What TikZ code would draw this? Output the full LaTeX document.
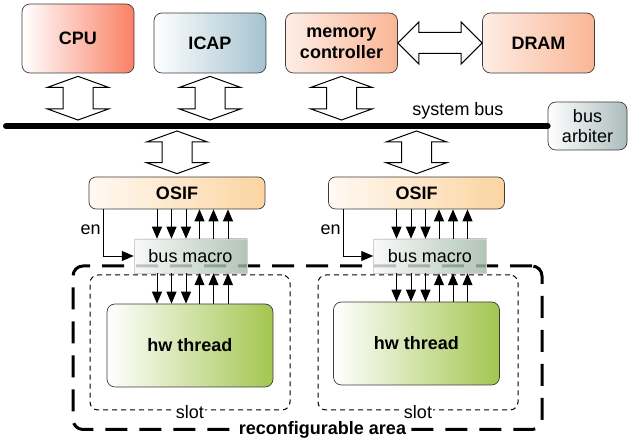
\documentclass[tikz,border=0pt]{standalone}
\usepackage{fontspec}
\setmainfont{Liberation Sans}
\usetikzlibrary{positioning,calc,arrows.meta}
\definecolor{cpuRed}{RGB}{250,128,100}
\definecolor{icapBlue}{RGB}{165,195,208}
\definecolor{memPeach}{RGB}{250,182,150}
\definecolor{arbGray}{RGB}{172,188,188}
\definecolor{osifOrange}{RGB}{252,212,160}
\definecolor{macroGreen}{RGB}{158,184,164}
\definecolor{threadGreen}{RGB}{163,198,80}
\definecolor{boxEdge}{RGB}{60,60,60}
\newcommand{\BoldFont}{\fontsize{18}{21}\selectfont\bfseries}
\newcommand{\PlainFont}{\fontsize{18}{20}\selectfont}
\def\TopBoxWidth{112pt}
\def\TopBoxHeight{60pt}
\newcommand{\FatArrowV}[2]{%
  \draw[fatarrow] #1 -- ($#1+(-30.5,-11)$) -- ($#1+(-15,-11)$) -- ($#2+(-15,11)$)
    -- ($#2+(-30.5,11)$) -- #2 -- ($#2+(30.5,11)$) -- ($#2+(15,11)$)
    -- ($#1+(15,-11)$) -- ($#1+(30.5,-11)$) -- cycle;}
\newcommand{\FatArrowH}[2]{%
  \draw[fatarrow] #1 -- ($#1+(21,21)$) -- ($#1+(21,10.5)$) -- ($#2+(-21,10.5)$)
    -- ($#2+(-21,21)$) -- #2 -- ($#2+(-21,-21)$) -- ($#2+(-21,-10.5)$)
    -- ($#1+(21,-10.5)$) -- ($#1+(21,-21)$) -- cycle;}
\newcommand{\LaneSet}[3]{%
  \foreach \dx in {-33.5,-19,-4.5} {
    \draw[lane] ([xshift=\dx]#2.north |- #1.south) -- ([xshift=\dx]#2.north);
    \draw[lane] ([xshift=\dx]#2.south) -- ([xshift=\dx]#2.south |- #3.north);
  }
  \foreach \dx in {9,23,37.5} {
    \draw[lane] ([xshift=\dx]#2.north) -- ([xshift=\dx]#2.north |- #1.south);
    \draw[lane] ([xshift=\dx]#2.south |- #3.north) -- ([xshift=\dx]#2.south);
  }}
\tikzset{
  unit/.style={
    draw=boxEdge,
    line width=0.7pt,
    rounded corners=8pt,
    minimum width=\TopBoxWidth,
    minimum height=\TopBoxHeight,
    align=center,
    font=\BoldFont
  },
  osif/.style={unit, minimum width=176pt, minimum height=32pt, rounded corners=7pt,
    left color=osifOrange!12, right color=osifOrange},
  busmacro/.style={draw=gray!35, line width=0.5pt, minimum width=113pt, minimum height=34pt,
    left color=gray!6, right color=macroGreen, fill opacity=0.8, text opacity=1, font=\PlainFont},
  thread/.style={unit, minimum width=166pt, minimum height=83pt,
    left color=white, right color=threadGreen},
  slot/.style={draw, line width=1pt, dash pattern=on 5pt off 4pt, rounded corners=8pt,
    minimum width=200pt, minimum height=135pt},
  area/.style={draw, line width=3pt, dash pattern=on 22pt off 12pt, rounded corners=10pt},
  fatarrow/.style={draw=black, line width=1pt, fill=white, line join=miter},
  lane/.style={->, >={Triangle[width=10pt,length=12pt]}, line width=0.9pt},
  busline/.style={line width=6pt, line cap=round},
  plain/.style={font=\PlainFont}
}
\begin{document}
\begin{tikzpicture}[x=1pt, y=1pt]
  \useasboundingbox (0,0) rectangle (630,438);

  \node[unit, left color=white, right color=cpuRed, minimum height=69pt] (cpu) at (78,399.5) {CPU};
  \node[unit, left color=white, right color=icapBlue] (icap) at (210,395) {ICAP};
  \node[unit, left color=memPeach!25, right color=memPeach] (memctrl) at (341.5,395) {memory\\controller};
  \node[unit, left color=memPeach!25, right color=memPeach] (dram) at (538.5,395) {DRAM};
  \FatArrowH{(memctrl.east)}{(dram.west)}

  % System bus with its arbiter.
  \coordinate (busW) at (6,312);
  \node[unit, font=\PlainFont, minimum width=79pt, minimum height=48pt,
    left color=white, right color=arbGray] (arbiter) at (587.5,312) {bus\\arbiter};
  \draw[busline] (busW) -- (arbiter.west);
  \node[plain] (busLabel) at (458,327) {system bus};

  \coordinate (cpuTap) at (cpu.south |- busW);
  \coordinate (icapTap) at (icap.south |- busW);
  \coordinate (memTap) at (memctrl.south |- busW);
  \FatArrowV{([yshift=-3pt]cpu.south)}{([yshift=6pt]cpuTap)}
  \FatArrowV{([yshift=-3pt]icap.south)}{([yshift=6pt]icapTap)}
  \FatArrowV{([yshift=-3pt]memctrl.south)}{([yshift=6pt]memTap)}

  \node[area, minimum width=469pt, minimum height=163.5pt] (area) at (307.5,90.25) {};
  \node[slot] (slotA) at (190,95.5) {};
  \node[slot] (slotB) at (418,95.5) {};
  \node[plain, fill=white, inner sep=1pt] (slotAlabel) at ([yshift=-2pt]slotA.south) {slot};
  \node[plain, fill=white, inner sep=1pt] (slotBlabel) at ([yshift=-2pt]slotB.south) {slot};
  \node[plain, font=\BoldFont, fill=white, inner sep=2pt, anchor=base] (areaLabel)
    at ([xshift=15pt, yshift=-3.5pt]area.south) {reconfigurable area};

  \node[osif] (osifA) at (177,245) {OSIF};
  \node[osif] (osifB) at (416.5,245) {OSIF};
  \coordinate (tapA) at (osifA.north |- busW);
  \coordinate (tapB) at (osifB.north |- busW);
  \FatArrowV{([yshift=-5pt]tapA)}{([yshift=3pt]osifA.north)}
  \FatArrowV{([yshift=-5pt]tapB)}{([yshift=3pt]osifB.north)}

  \node[thread] (threadA) at (190,92.5) {hw thread};
  \node[thread] (threadB) at (416.5,94.5) {hw thread};
  \node[busmacro] (macroA) at (190.5,182) {bus macro};
  \node[busmacro] (macroB) at (430,182) {bus macro};

  \LaneSet{osifA}{macroA}{threadA}
  \LaneSet{osifB}{macroB}{threadB}
  \draw[lane] ([xshift=-74pt]osifA.south) |- node[plain, pos=0.22, left, inner sep=2pt] (enA) {en} (macroA.west);
  \draw[lane] ([xshift=-73.5pt]osifB.south) |- node[plain, pos=0.22, left, inner sep=2pt] (enB) {en} (macroB.west);
\end{tikzpicture}
\end{document}
